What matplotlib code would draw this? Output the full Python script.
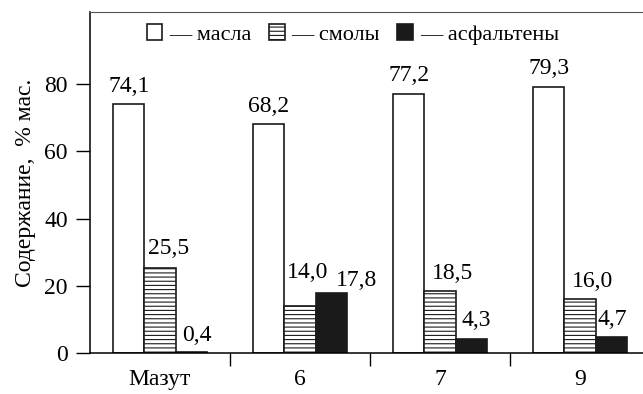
import matplotlib.pyplot as plt
import numpy as np

plt.rcParams['font.family'] = ['Liberation Serif', 'DejaVu Serif']
plt.rcParams['hatch.linewidth'] = 0.8

samples = ["Мазут", "6", "7", "9"]
oils = [74.1, 68.2, 77.2, 79.3]
resins = [25.5, 14.0, 18.5, 16.0]
asph = [0.4, 17.8, 4.3, 4.7]
names = ["— масла", "— смолы", "— асфальтены"]

ind = np.arange(len(samples))
w = 0.222

fig = plt.figure(figsize=(6.43, 3.94), dpi=100)
ax = fig.add_axes([0.14, 0.1033, 0.86, 0.8667])

b1 = ax.bar(ind - w, oils, w, color="white", edgecolor="#1a1a1a", linewidth=1.2, label=names[0])
b2 = ax.bar(ind, resins, w, color="white", edgecolor="#1a1a1a", linewidth=1.2, hatch="----", label=names[1])
b3 = ax.bar(ind + w, asph, w, color="#1a1a1a", edgecolor="#1a1a1a", linewidth=1.2, label=names[2])

def fmt(v):
	return ("%.1f" % v).replace(".", ",")

# label shifts in pixels (hand placed in the original)
dx = [[0, 0, 0, 0], [9, 8, 13, 13], [6, 25, 5, 1]]
dy = [[10, 10, 10, 10], [11, 26, 10, 10], [9, 5, 11, 10]]
for k, (bars, vals) in enumerate([(b1, oils), (b2, resins), (b3, asph)]):
	for i, (r, v) in enumerate(zip(bars, vals)):
		ax.annotate(fmt(v), (r.get_x() + r.get_width() / 2, v),
			xytext=(dx[k][i] * 0.72, dy[k][i] * 0.72 - 2), textcoords="offset points",
			ha="center", va="bottom", fontsize=17)

ax.set_xlim(-0.5, 3.45)
ax.set_ylim(0, 101.5)
ax.set_yticks([0, 20, 40, 60, 80])
ax.set_xticks(ind)
ax.set_xticklabels(samples)
ax.set_xticks(ind[:-1] + 0.5, minor=True)
ax.tick_params(axis="x", which="major", length=0, pad=11, labelsize=17)
ax.tick_params(axis="x", which="minor", length=9, width=1, direction="out")
ax.tick_params(axis="y", length=10, width=1, direction="out", pad=6, labelsize=17)
ax.set_ylabel("Содержание,  % мас.", fontsize=17, labelpad=6)

ax.spines["right"].set_visible(False)
ax.spines["top"].set_color("#555555")
for s in ["left", "bottom"]:
	ax.spines[s].set_linewidth(1.1)

ax.legend(loc="upper center", bbox_to_anchor=(0.475, 1.01), ncol=3, frameon=False,
	fontsize=16, handlelength=0.7, handleheight=0.7, handletextpad=0.3,
	columnspacing=0.8, borderaxespad=0.3)

plt.savefig("out.png", dpi=100)
